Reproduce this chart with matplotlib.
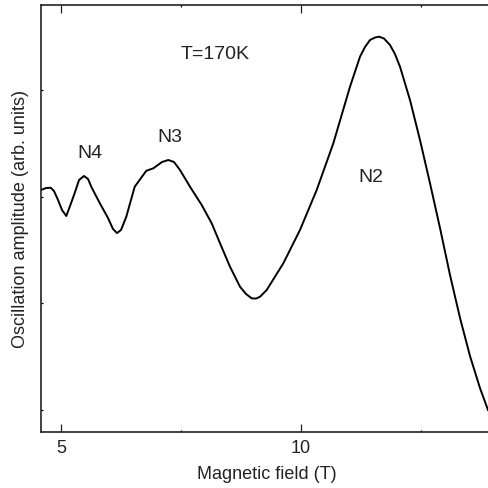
import matplotlib
matplotlib.use("Agg")
import matplotlib.pyplot as plt
from matplotlib.ticker import MultipleLocator, NullFormatter

plt.rcParams['font.family'] = ['Liberation Sans', 'DejaVu Sans']

# Magnetic field (T)
field = [4.583, 4.688, 4.785, 4.854, 4.938, 5.021, 5.110, 5.188, 5.285, 5.375,
         5.479, 5.563, 5.631, 5.806, 5.979, 6.083, 6.167, 6.250, 6.360, 6.535,
         6.777, 6.923, 7.104, 7.235, 7.354, 7.479, 7.688, 7.931, 8.140, 8.313,
         8.521, 8.729, 8.854, 8.973, 9.063, 9.146, 9.285, 9.631, 9.979, 10.327,
         10.673, 11.021, 11.229, 11.333, 11.438, 11.542, 11.625, 11.729, 11.854, 11.958,
         12.063, 12.271, 12.479, 12.688, 12.896, 13.104, 13.313, 13.521, 13.729, 13.896]
# Oscillation amplitude (arb. units)
amplitude = [2.063, 2.081, 2.084, 2.053, 1.969, 1.875, 1.819, 1.913, 2.034, 2.156,
             2.194, 2.166, 2.093, 1.941, 1.800, 1.697, 1.659, 1.688, 1.812, 2.093,
             2.243, 2.266, 2.325, 2.344, 2.325, 2.250, 2.093, 1.922, 1.750, 1.563,
             1.343, 1.156, 1.088, 1.047, 1.045, 1.062, 1.125, 1.375, 1.688, 2.063,
             2.500, 3.031, 3.312, 3.403, 3.469, 3.492, 3.500, 3.483, 3.422, 3.337,
             3.218, 2.906, 2.531, 2.125, 1.706, 1.266, 0.863, 0.506, 0.206, 0.0]

labels = ["T=170K", "N4", "N3", "N2"]
label_x = [8.219, 5.604, 7.271, 11.458]
label_y = [3.288, 2.3625, 2.5125, 2.1375]
x_ticks = [5, 10]
y_ticks = [0, 1, 2, 3]

fig = plt.figure(figsize=(4.88, 4.88), dpi=100)
ax = fig.add_axes([41/488, 1 - 432/488, 452/488, 427/488])

ax.plot(field, amplitude, color='black', lw=1.4, solid_joinstyle='round')
ax.set_xlim(4.583, 14.0)
ax.set_ylim(-0.206, 3.797)

ax.set_xticks(x_ticks)
ax.xaxis.set_minor_locator(MultipleLocator(2.5))
ax.set_yticks(y_ticks)
ax.yaxis.set_major_formatter(NullFormatter())
ax.tick_params(axis='x', which='major', direction='in', length=6, width=0.9,
               top=True, labelsize=13, pad=6, colors='#222222')
ax.tick_params(axis='x', which='minor', direction='in', length=1.5, width=0.9, top=True)
ax.tick_params(axis='y', which='major', direction='in', length=1.5, width=0.9, right=True)
for s in ax.spines.values():
    s.set_linewidth(1.2)
    s.set_color('#222222')

ax.set_xlabel("Magnetic field (T)", fontsize=13, labelpad=6, color='#222222')
ax.set_ylabel("Oscillation amplitude (arb. units)", fontsize=13, labelpad=5, color='#222222')

for t, x, y in zip(labels, label_x, label_y):
    ax.text(x, y, t, fontsize=14, ha='center', va='baseline', color='#222222')

fig.savefig("out.png", dpi=100)
